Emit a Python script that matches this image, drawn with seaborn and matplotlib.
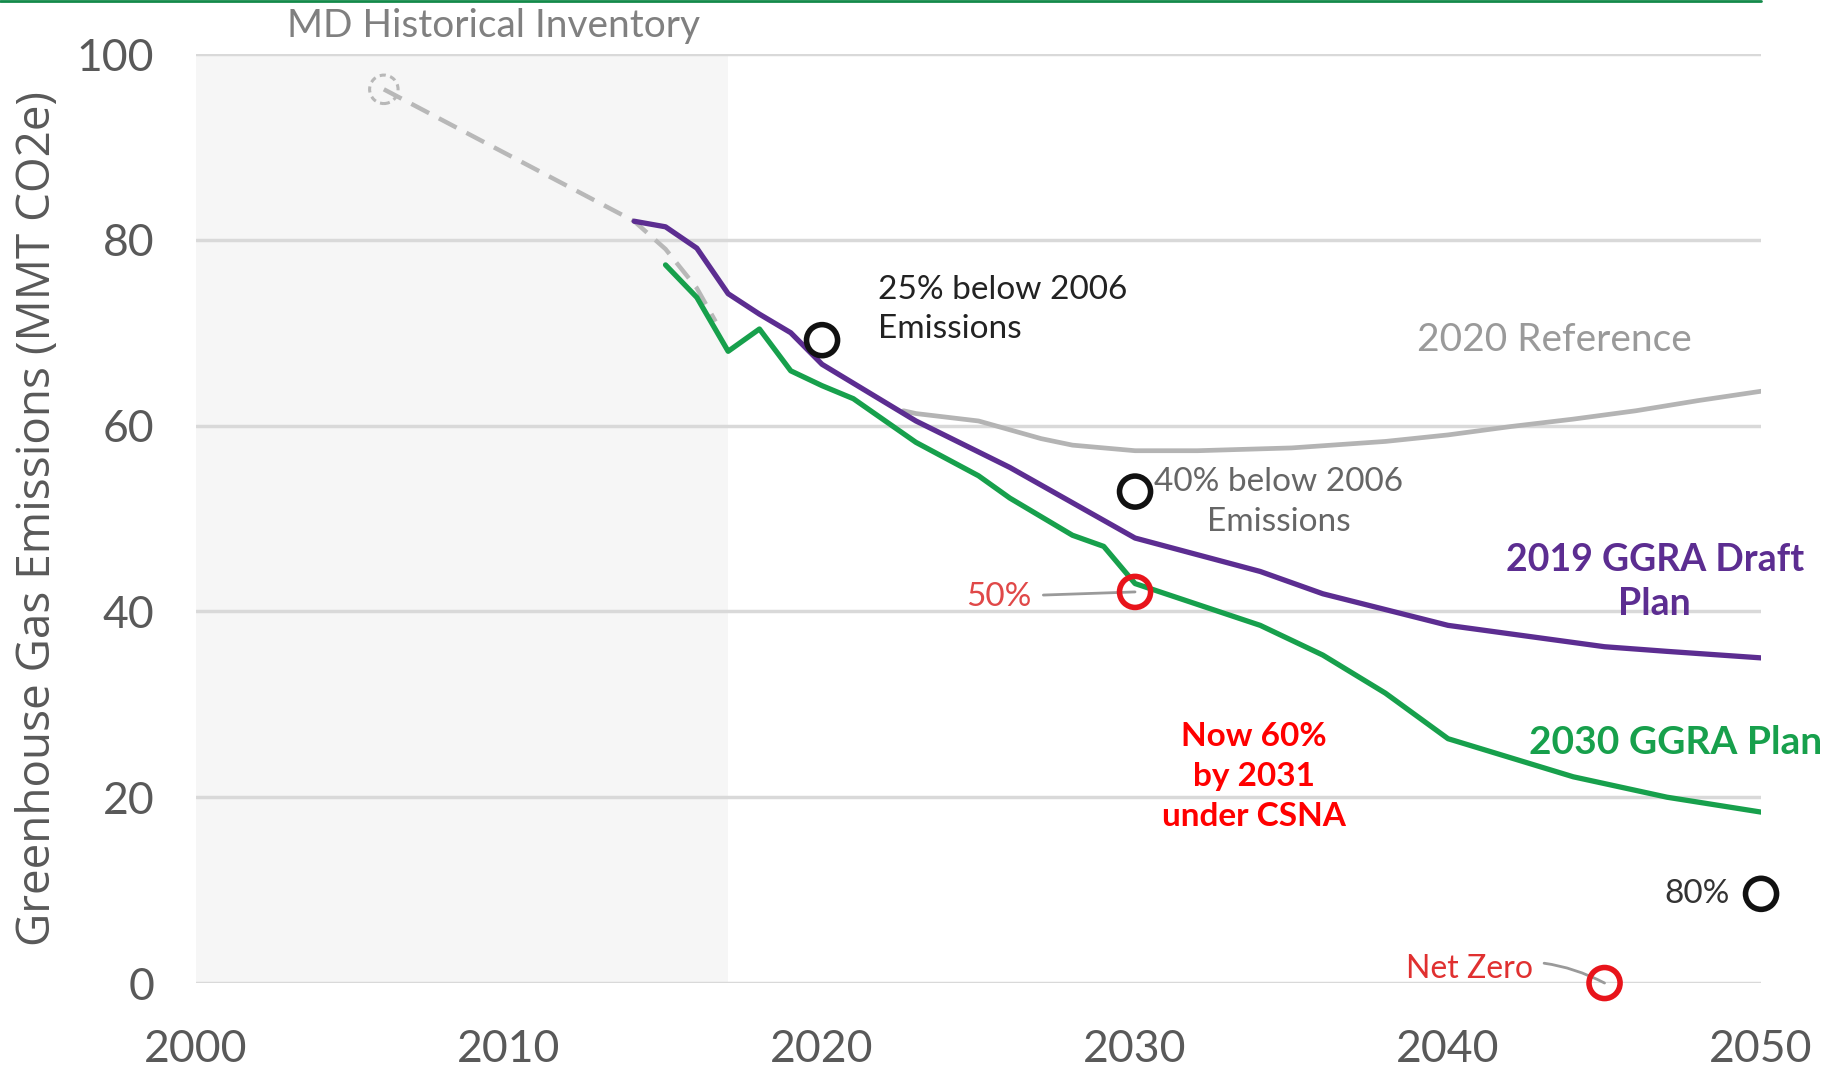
import matplotlib.pyplot as plt
import pandas as pd
import seaborn as sns
from matplotlib.lines import Line2D

# MD historical inventory (dashed, grey)
hist_years = [2006, 2014, 2015, 2016, 2016.6]
hist_vals = [96.2, 82.0, 79.0, 74.8, 71.2]

# 2020 Reference
ref_years = [2022.6, 2023, 2025, 2027, 2028, 2030, 2032, 2035, 2038, 2040, 2042, 2044, 2046, 2048, 2050]
ref_vals = [61.6, 61.3, 60.5, 58.6, 57.9, 57.3, 57.3, 57.6, 58.3, 59.0, 59.9, 60.7, 61.6, 62.7, 63.7]

# 2019 GGRA Draft Plan
draft_years = [2014, 2015, 2016, 2017, 2018, 2019, 2020, 2023, 2026, 2030, 2034, 2036, 2038, 2040, 2045, 2047, 2050]
draft_vals = [82.0, 81.4, 79.1, 74.2, 72.0, 70.0, 66.6, 60.5, 55.5, 47.9, 44.3, 41.9, 40.2, 38.5, 36.2, 35.7, 35.0]

# 2030 GGRA Plan
plan_years = [2015, 2016, 2017, 2018, 2019, 2020, 2021, 2023, 2025, 2026, 2028, 2029, 2030, 2034, 2036, 2038,
              2040, 2044, 2047, 2050]
plan_vals = [77.3, 73.8, 68.0, 70.4, 65.9, 64.3, 62.9, 58.2, 54.6, 52.2, 48.2, 47.0, 43.0, 38.5, 35.3, 31.2,
             26.3, 22.2, 20.0, 18.4]

# target circles
black_years = [2020, 2030, 2050]
black_vals = [69.2, 52.9, 9.6]
red_years = [2030, 2045]
red_vals = [42.1, 0.0]
md_year = [2006]
md_val = [96.2]

xticks = [2000, 2010, 2020, 2030, 2040, 2050]
yticks = [0, 20, 40, 60, 80, 100]

PURPLE = '#5c2d91'
GREEN = '#17a04c'
RED = '#e8141b'

sns.set_theme(style='white')
plt.rcParams['font.family'] = ['Lato', 'DejaVu Sans']

fig = plt.figure(figsize=(18.27, 10.74), dpi=100)
ax = fig.add_axes([0.1073, 0.0847, 0.8566, 0.865])

# shaded historical period
ax.axvspan(2000, 2017, color='#f6f6f6', lw=0, zorder=0)

hist = pd.DataFrame({'year': hist_years, 'val': hist_vals})
ref = pd.DataFrame({'year': ref_years, 'val': ref_vals})
draft = pd.DataFrame({'year': draft_years, 'val': draft_vals})
plan = pd.DataFrame({'year': plan_years, 'val': plan_vals})

sns.lineplot(data=ref, x='year', y='val', color='#b4b4b4', lw=3.4, ax=ax, zorder=2)
sns.lineplot(data=hist, x='year', y='val', color='#b8b8b8', lw=3.2, ax=ax, zorder=2,
             linestyle=(0, (4.5, 2.5)))
sns.lineplot(data=plan, x='year', y='val', color=GREEN, lw=3.8, ax=ax, zorder=3)
sns.lineplot(data=draft, x='year', y='val', color=PURPLE, lw=3.8, ax=ax, zorder=4)

# target circles
sns.scatterplot(x=black_years, y=black_vals, ax=ax, s=500, zorder=6)
pts = ax.collections[-1]
pts.set_facecolor('none')
pts.set_edgecolor('#111111')
pts.set_linewidth(4)
pts.set_clip_on(False)

sns.scatterplot(x=red_years, y=red_vals, ax=ax, s=500, zorder=6)
pts = ax.collections[-1]
pts.set_facecolor('none')
pts.set_edgecolor(RED)
pts.set_linewidth(4)
pts.set_clip_on(False)

sns.scatterplot(x=md_year, y=md_val, ax=ax, s=420, zorder=6)
pts = ax.collections[-1]
pts.set_facecolor('none')
pts.set_edgecolor('#b8b8b8')
pts.set_linewidth(2.2)
pts.set_linestyle((0, (2, 1.5)))

ax.set_xlim(2000, 2050)
ax.set_ylim(0, 100)
ax.set_xticks(xticks)
ax.set_yticks(yticks)
ax.set_xlabel('')
ax.set_ylabel('')
ax.set_axisbelow(True)
ax.yaxis.grid(True, color='#d9d9d9', lw=2.5)
ax.xaxis.grid(False)
sns.despine(ax=ax, left=True, bottom=True)
ax.tick_params(axis='both', length=0, labelsize=32, colors='#595959')
ax.tick_params(axis='x', pad=33)
ax.tick_params(axis='y', pad=30)

# annotations
ax.text(2009.5, 103, 'MD Historical Inventory', fontsize=28, color='#808080',
        ha='center', va='center', clip_on=False)
ax.text(2021.8, 72.5, '25% below 2006\nEmissions', fontsize=24, color='#222222',
        ha='left', va='center', linespacing=1.4)
ax.text(2039.0, 69.2, '2020 Reference', fontsize=28, color='#9a9a9a', ha='left', va='center')
ax.text(2034.6, 51.8, '40% below 2006\nEmissions', fontsize=24, color='#666666',
        ha='center', va='center', linespacing=1.4)
ax.text(2046.6, 43.2, '2019 GGRA Draft\nPlan', fontsize=27, color=PURPLE, fontweight='bold',
        ha='center', va='center', linespacing=1.35)
ax.text(2042.6, 25.9, '2030 GGRA Plan', fontsize=28, color=GREEN, fontweight='bold',
        ha='left', va='center', clip_on=False)
ax.text(2033.8, 22.2, 'Now 60%\nby 2031\nunder CSNA', fontsize=24, color='#ff0000',
        fontweight='bold', ha='center', va='center', linespacing=1.45)
ax.text(2049.0, 9.6, '80%', fontsize=24, color='#333333', ha='right', va='center')

ax.annotate('50%', xy=(2030, 42.1), xytext=(2026.7, 41.6), fontsize=24, color='#e04848',
            ha='right', va='center',
            arrowprops=dict(arrowstyle='-', color='#9a9a9a', lw=2, shrinkA=6, shrinkB=0))
ax.annotate('Net Zero', xy=(2045, 0.0), xytext=(2042.7, 1.5), fontsize=23, color='#e03030',
            ha='right', va='center', annotation_clip=False,
            arrowprops=dict(arrowstyle='-', color='#9a9a9a', lw=2, shrinkA=6, shrinkB=0,
                            connectionstyle='arc3,rad=-0.2'))

fig.text(0.021, 0.517, 'Greenhouse Gas Emissions (MMT CO2e)', rotation=90, fontsize=33,
         color='#595959', ha='center', va='center', family=['Open Sans', 'DejaVu Sans'])

# green rule at the top of the slide and the clipped page number
fig.add_artist(Line2D([0, 0.964], [0.999, 0.999], transform=fig.transFigure, color='#138a4a', lw=2))
fig.text(0.988, -0.014, '10', fontsize=22, color='#333333', ha='center', va='center')

fig.savefig('out.png', dpi=100)
